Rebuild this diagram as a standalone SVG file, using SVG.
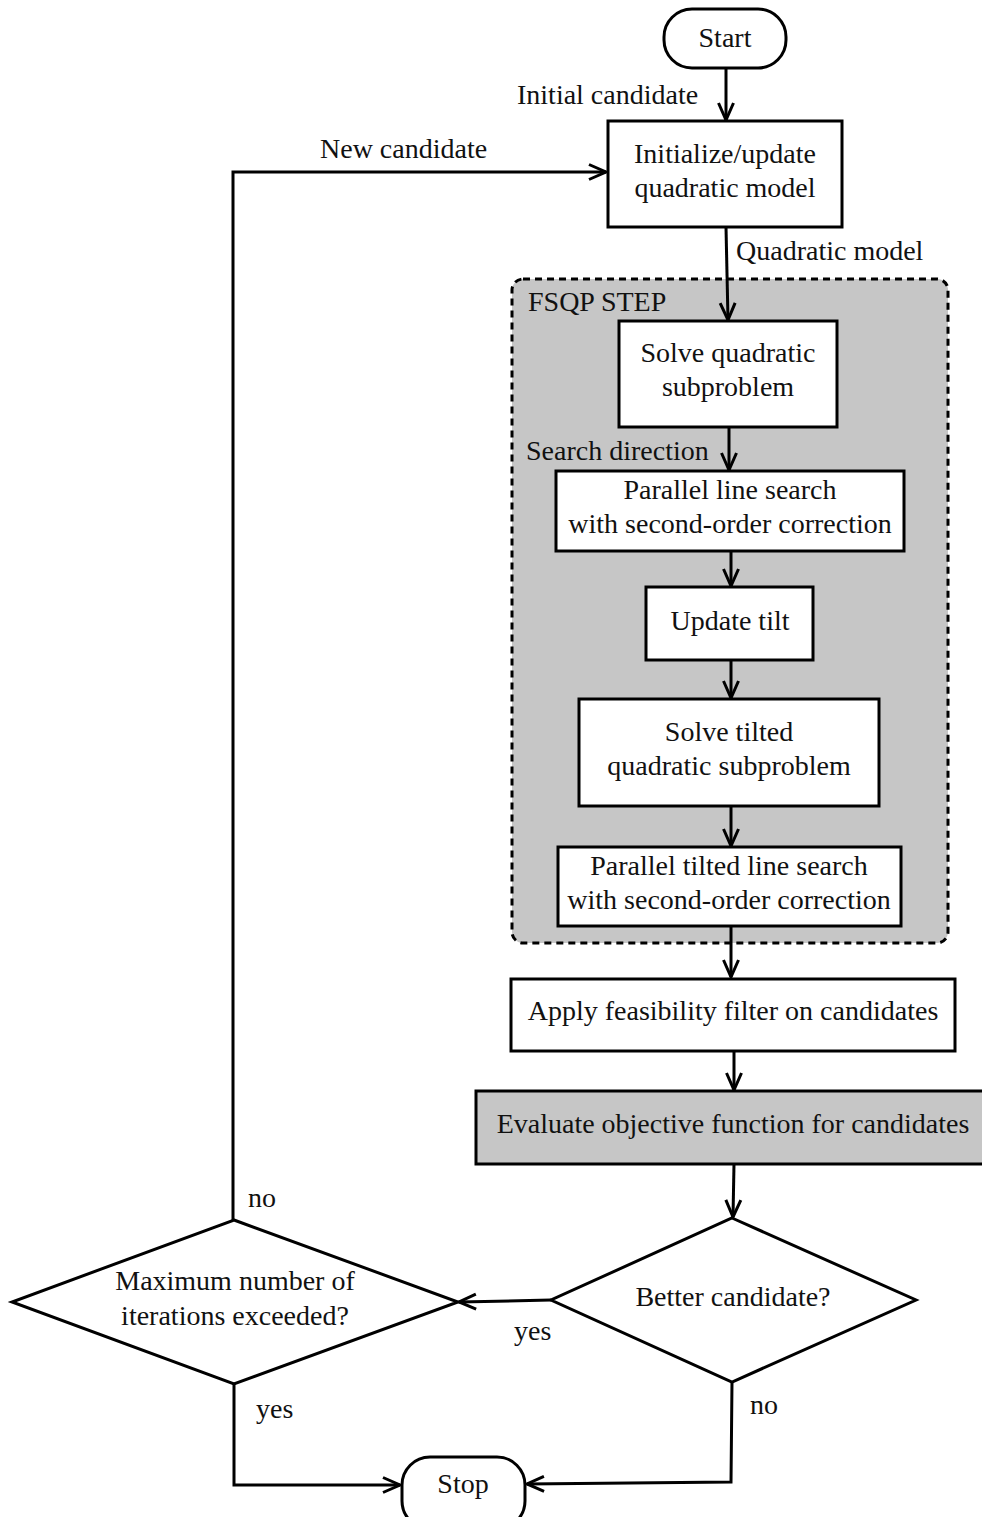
<svg xmlns="http://www.w3.org/2000/svg" width="982" height="1517" viewBox="0 0 982 1517">
<defs>
<marker id="arr" viewBox="0 0 20 20" refX="18" refY="10" markerWidth="20" markerHeight="20" markerUnits="userSpaceOnUse" orient="auto">
<path d="M1,2.5 L18,10 L1,17.5" fill="none" stroke="#000" stroke-width="3"/>
</marker>
<style>
.box{fill:#fff;stroke:#000;stroke-width:3}
.gray{fill:#c6c6c6;stroke:#000;stroke-width:3}
.t{font-family:"Liberation Serif",serif;font-size:28px;fill:#111;text-anchor:middle}
.l{font-family:"Liberation Serif",serif;font-size:28px;fill:#111}
.c{fill:none;stroke:#000;stroke-width:3;marker-end:url(#arr)}
</style>
</defs>
<rect width="982" height="1517" fill="#fff"/>
<g id="fsqp">
<rect x="512" y="279" width="436" height="664" rx="11" fill="#c6c6c6" stroke="#000" stroke-width="3" stroke-dasharray="7,5"/>
<text class="l" x="528" y="311">FSQP STEP</text>
</g>
<g id="start"><rect class="box" x="664" y="9" width="122" height="59" rx="28"/><text class="t" x="725" y="47">Start</text></g>
<g id="init"><rect class="box" x="608" y="121" width="234" height="106"/><text class="t" x="725" y="163">Initialize/update</text><text class="t" x="725" y="197">quadratic model</text></g>
<g id="solveqp"><rect class="box" x="619" y="321" width="218" height="106"/><text class="t" x="728" y="362">Solve quadratic</text><text class="t" x="728" y="396">subproblem</text></g>
<g id="pls"><rect class="box" x="556" y="471" width="348" height="80"/><text class="t" x="730" y="499">Parallel line search</text><text class="t" x="730" y="533">with second-order correction</text></g>
<g id="tilt"><rect class="box" x="646" y="587" width="167" height="73"/><text class="t" x="730" y="630">Update tilt</text></g>
<g id="solvetilt"><rect class="box" x="579" y="699" width="300" height="107"/><text class="t" x="729" y="741">Solve tilted</text><text class="t" x="729" y="775">quadratic subproblem</text></g>
<g id="ptls"><rect class="box" x="558" y="847" width="343" height="79"/><text class="t" x="729" y="875">Parallel tilted line search</text><text class="t" x="729" y="909">with second-order correction</text></g>
<g id="apply"><rect class="box" x="511" y="979" width="444" height="72"/><text class="t" x="733" y="1020">Apply feasibility filter on candidates</text></g>
<g id="eval"><rect class="gray" x="476" y="1091" width="520" height="73"/><text class="t" x="733" y="1133">Evaluate objective function for candidates</text></g>
<g id="better"><polygon class="box" points="732,1218 916,1300 732,1382 551,1300"/><text class="t" x="733" y="1306">Better candidate?</text></g>
<g id="maxit"><polygon class="box" points="234,1220 458,1302 234,1384 12,1302"/><text class="t" x="235" y="1290">Maximum number of</text><text class="t" x="235" y="1325">iterations exceeded?</text></g>
<g id="stop"><rect class="box" x="402" y="1457" width="123" height="72" rx="28"/><text class="t" x="463" y="1493">Stop</text></g>
<g id="connectors">
<path class="c" d="M726,68 V120"/>
<path class="c" d="M726,227 L728,320"/>
<path class="c" d="M729,427 V470"/>
<path class="c" d="M731,551 V586"/>
<path class="c" d="M731,660 V698"/>
<path class="c" d="M731,806 V846"/>
<path class="c" d="M731,926 V977"/>
<path class="c" d="M734,1051 V1090"/>
<path class="c" d="M734,1164 L733,1217"/>
<path class="c" d="M551,1300 L459,1302"/>
<path class="c" d="M233,1220 V172 H606"/>
<path class="c" d="M234,1384 V1485 H400"/>
<path class="c" d="M732,1382 L731,1482 L527,1484"/>
</g>
<g id="labels">
<text class="l" x="517" y="104">Initial candidate</text>
<text class="l" x="320" y="158">New candidate</text>
<text class="l" x="736" y="260">Quadratic model</text>
<text class="l" x="526" y="460">Search direction</text>
<text class="l" x="248" y="1207">no</text>
<text class="l" x="514" y="1340">yes</text>
<text class="l" x="256" y="1418">yes</text>
<text class="l" x="750" y="1414">no</text>
</g>
</svg>
